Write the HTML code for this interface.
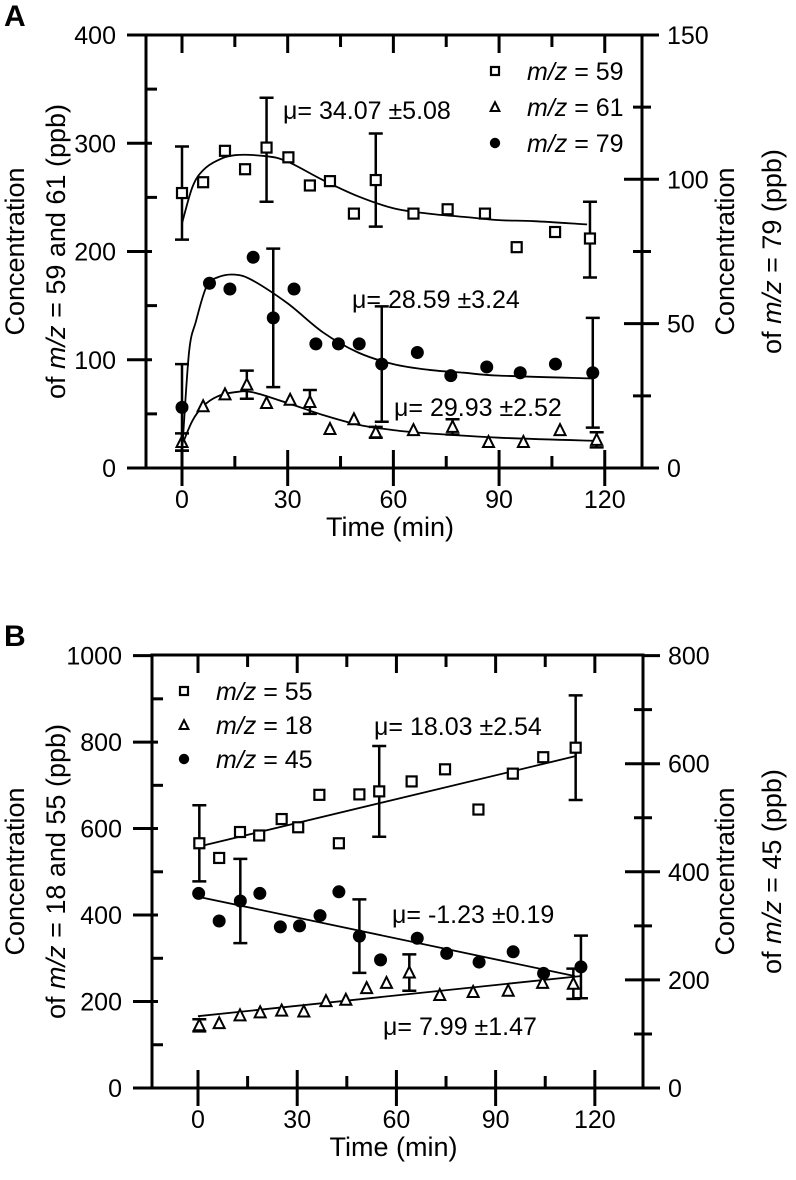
<!DOCTYPE html>
<html><head><meta charset="utf-8"><style>
html,body{margin:0;padding:0;background:#fff;}
svg{display:block;font-family:"Liberation Sans",sans-serif;}
</style></head><body>
<svg id="fig" width="796" height="1180" viewBox="0 0 796 1180" xmlns="http://www.w3.org/2000/svg"></svg>
<script>
// ---------- Panel A data ----------
const a59T=[0,6,12.2,17.9,24,30.2,36.3,42,48.8,55,65.7,75.4,86,95,105.9,115.8];
const a59V=[254,264,293,276,296,287,261,265,235,266,235,239,235,204,218,212];
const a59ErrT=[0,24,55,115.8];
const a59ErrV=[254,294,266,211];
const a59ErrE=[43,48,43,35];
const a59FitT=[0,3,6,10,15,24,30,40,50,60,70,80,90,100,115];
const a59FitV=[226,260,275,284,289,288,283,266,251,240,235,232,229,228,225];

const a61T=[0,6,12.2,18.4,24,30.7,36.3,42,48.8,55,65.7,76.8,87,96.9,107.3,117.7];
const a61V=[24,57,68,77,60,63,61,36,45,33,35,38,24,24,35,26];
const a61ErrT=[0,18.4,36.3,55,76.8,117.7];
const a61ErrV=[24,77,61,33,38,26];
const a61ErrE=[8,13,11,5,7,7];
const a61FitT=[0,3,6,10,15,20,30,40,50,60,70,90,118];
const a61FitV=[21,44,57,66,70,70,60,49,40,35,32,28,25];

const a79T=[0,7.8,13.6,20.2,25.9,31.8,38,44.4,50.3,56.7,66.8,76.3,86.5,96,106,116.6];
const a79V=[21,64,62,73,52,62,43,43,43,36,40,32,35,33,36,33];
const a79ErrT=[0,25.9,56.7,116.6];
const a79ErrV=[21,52,36,33];
const a79ErrE=[15,24,20,19];
const a79FitT=[0,2,4,7,10,15,20,30,40,50,60,70,80,90,117];
const a79FitV=[5,40,51,63,66,67,65,57,47,40,36,34,33,32,31];

// ---------- Panel B data ----------
const b55T=[0.4,6.4,12.7,18.5,25.3,30.3,36.7,42.6,48.8,54.8,64.6,74.7,84.8,95.2,104.4,114.2];
const b55V=[566,532,592,584,622,603,678,566,679,686,709,737,644,727,765,787];
const b55ErrT=[0.4,54.8,114.2];
const b55ErrV=[566,686,787];
const b55ErrE=[88,105,121];
const b55FitT=[0,114];
const b55FitV=[558,767];

const b18T=[0.4,6.4,12.7,18.8,25.3,32,38.7,44.7,51,57,63.9,73.1,83.2,93.8,104.2,113.5];
const b18V=[145,150,168,175,179,177,201,204,231,243,267,215,222,225,243,241];
const b18ErrT=[0.4,63.9,113.5];
const b18ErrV=[145,267,241];
const b18ErrE=[14,42,35];
const b18FitT=[0,116];
const b18FitV=[166,259];

const b45T=[0.2,6.4,12.8,18.7,24.9,30.7,36.9,42.6,48.8,55.2,66.3,75.2,85,95.3,104.5,115.8];
const b45V=[360,309,346,360,298,300,319,363,281,237,277,249,233,252,212,224];
const b45ErrT=[12.8,48.8,115.8];
const b45ErrV=[346,281,224];
const b45ErrE=[78,68,58];
const b45FitT=[0,114];
const b45FitV=[354,207];

// tick labels
const aXTicks=[0,30,60,90,120];
const aLTicks=[0,100,200,300,400];
const aRTicks=[0,50,100,150];
const bXTicks=[0,30,60,90,120];
const bLTicks=[0,200,400,600,800,1000];
const bRTicks=[0,200,400,600,800];

const NS="http://www.w3.org/2000/svg";
const svg=document.getElementById('fig');
function mk(tag,attrs,parent){const e=document.createElementNS(NS,tag);for(const k in attrs)e.setAttribute(k,attrs[k]);(parent||svg).appendChild(e);return e;}
function txt(x,y,s,anchor,size,parent,extra){const e=mk('text',Object.assign({x:x,y:y,'text-anchor':anchor||'middle','font-size':size||25,fill:'#000'},extra||{}),parent);e.textContent=s;return e;}

function panel(P){
  const g=mk('g',{});
  
  
  const X=t=>P.x0px+t*P.xk;
  const YL=v=>P.ybot-v*P.lk;
  const YR=v=>P.ybot-v*P.rk;
  const frame=mk('rect',{x:P.left,y:P.ytop,width:P.right-P.left,height:P.ybot-P.ytop,fill:'none',stroke:'#000','stroke-width':3},g);
  
  
  for(let t=0;t<=120;t+=15){
    const x=X(t), major=t%30===0;
    mk('line',{x1:x,x2:x,y1:P.ybot-(major?18:12),y2:P.ybot+(major?18:0),stroke:'#000','stroke-width':3},g);
    mk('line',{x1:x,x2:x,y1:P.ytop,y2:P.ytop+(major?18:12),stroke:'#000','stroke-width':3},g);
  }
  P.xt.forEach(t=>{const e=txt(X(t),P.ybot+40,String(t),'middle',25,g);});
  for(let v=0;v<=P.lmax;v+=P.lminor){
    const y=YL(v), major=v%P.lmajor===0;
    if(major) mk('line',{x1:P.left-19,x2:P.left+(v===0||v===P.lmax?0:6),y1:y,y2:y,stroke:'#000','stroke-width':3},g);
    else mk('line',{x1:P.left,x2:P.left+11,y1:y,y2:y,stroke:'#000','stroke-width':3},g);
  }
  P.lt.forEach(v=>{const e=txt(P.left-30,YL(v)+9,String(v),'end',25,g);});
  for(let v=0;v<=P.rmax;v+=P.rminor){
    const y=YR(v), major=v%P.rmajor===0;
    if(v===0||v===P.rmax){mk('line',{x1:P.right,x2:P.right+17,y1:y,y2:y,stroke:'#000','stroke-width':3},g);continue;}
    mk('line',{x1:P.right-(major?18:9),x2:P.right+(major?17:9),y1:y,y2:y,stroke:'#000','stroke-width':3},g);
  }
  P.rt.forEach(v=>{const e=txt(P.right+25,YR(v)+9,String(v),'start',25,g);});
  const xt=txt((P.left+P.right)/2-4,P.ybot+68,'Time (min)','middle',27,g);
  
  const cy=(P.ytop+P.ybot)/2;
  const l1=txt(0,0,'Concentration','middle',27,g,{transform:`translate(24,${cy}) rotate(-90)`});
  
  const l2=mk('text',{transform:`translate(65,${cy}) rotate(-90)`,'text-anchor':'middle','font-size':27},g);
  l2.innerHTML='of <tspan font-style="italic">m/z</tspan> = '+P.ltitle+' (ppb)';
  
  const r1=txt(0,0,'Concentration','middle',27,g,{transform:`translate(734,${cy}) rotate(-90)`});
  
  const r2=mk('text',{transform:`translate(781,${cy}) rotate(-90)`,'text-anchor':'middle','font-size':27},g);
  r2.innerHTML='of <tspan font-style="italic">m/z</tspan> = '+P.rtitle+' (ppb)';
  
  const lab=txt(4,P.ytop-9,P.label,'start',30,g,{'font-weight':'bold'});
  

  P.series.forEach(s=>{
    const Y=s.axis==='L'?YL:YR;
    const sg=mk('g',{},g);
    
    
    const pts=s.fitT.map((t,i)=>X(t).toFixed(1)+','+Y(s.fitV[i]).toFixed(1));
    let d='M'+pts[0];
    if(s.fitT.length>2){
      const P2=s.fitT.map((t,i)=>[X(t),Y(s.fitV[i])]);
      for(let i=0;i<P2.length-1;i++){
        const p0=P2[Math.max(0,i-1)],p1=P2[i],p2=P2[i+1],p3=P2[Math.min(P2.length-1,i+2)];
        const c1=[p1[0]+(p2[0]-p0[0])/6,p1[1]+(p2[1]-p0[1])/6],c2=[p2[0]-(p3[0]-p1[0])/6,p2[1]-(p3[1]-p1[1])/6];
        d+=` C${c1[0].toFixed(1)},${c1[1].toFixed(1)} ${c2[0].toFixed(1)},${c2[1].toFixed(1)} ${p2[0].toFixed(1)},${p2[1].toFixed(1)}`;
      }
    } else d+=' L'+pts[1];
    const fit=mk('path',{d:d,fill:'none',stroke:'#000','stroke-width':1.8},sg);
    
    s.errT.forEach((t,i)=>{
      const x=X(t),y1=Y(s.errV[i]+s.errE[i]),y2=Y(s.errV[i]-s.errE[i]);
      const eb=mk('path',{d:`M${x},${y1}V${y2}M${x-7},${y1}H${x+7}M${x-7},${y2}H${x+7}`,stroke:'#000','stroke-width':2.5,fill:'none'},sg);
      
    });
    s.t.forEach((t,i)=>{
      const m=marker(s.shape,X(t),Y(s.v[i]),sg);
      
    });
  });
  P.notes.forEach(n=>{const e=txt(n[0],n[1],n[2],'start',25,g);});
  const lg=mk('g',{},g);
  
  P.series.forEach((s,i)=>{
    const y=P.legY+i*P.legDy;
    const m=marker(s.shape,P.legX,y,lg,0.8);
    
    const t=mk('text',{x:P.legX+32,y:y+9,'font-size':25},lg);
    t.innerHTML='<tspan font-style="italic">m/z</tspan> = '+s.mz;
    
  });
}
function marker(shape,x,y,parent,sc){
  sc=sc||1;
  if(shape==='sq') return mk('rect',{x:x-5*sc,y:y-5*sc,width:10*sc,height:10*sc,fill:'#fff',stroke:'#000','stroke-width':2.2},parent);
  if(shape==='tri') return mk('polygon',{points:`${x},${y-6*sc} ${x-5.5*sc},${y+5*sc} ${x+5.5*sc},${y+5*sc}`,fill:'#fff',stroke:'#000','stroke-width':2},parent);
  return mk('circle',{cx:x,cy:y,r:6.5*sc,fill:'#000'},parent);
}

panel({name:'panel-a',label:'A',left:146,right:642,ytop:35,ybot:468,x0px:182,xk:3.523,lk:1.0825,rk:2.887,
  lmax:400,lmajor:100,lminor:50,rmax:150,rmajor:50,rminor:25,xt:aXTicks,lt:aLTicks,rt:aRTicks,
  ltitle:'59 and 61',rtitle:'79',legX:495,legY:71,legDy:36,
  notes:[[283,119,'\u03bc= 34.07 \u00b15.08'],[352,308,'\u03bc= 28.59 \u00b13.24'],[394,416,'\u03bc= 29.93 \u00b12.52']],
  series:[
   {mz:59,axis:'L',shape:'sq',t:a59T,v:a59V,errT:a59ErrT,errV:a59ErrV,errE:a59ErrE,fitT:a59FitT,fitV:a59FitV},
   {mz:61,axis:'L',shape:'tri',t:a61T,v:a61V,errT:a61ErrT,errV:a61ErrV,errE:a61ErrE,fitT:a61FitT,fitV:a61FitV},
   {mz:79,axis:'R',shape:'dot',t:a79T,v:a79V,errT:a79ErrT,errV:a79ErrV,errE:a79ErrE,fitT:a79FitT,fitV:a79FitV}]});

panel({name:'panel-b',label:'B',left:152,right:643,ytop:655,ybot:1088,x0px:198,xk:3.307,lk:0.4324,rk:0.5405,
  lmax:1000,lmajor:200,lminor:100,rmax:800,rmajor:200,rminor:100,xt:bXTicks,lt:bLTicks,rt:bRTicks,
  ltitle:'18 and 55',rtitle:'45',legX:184,legY:691,legDy:34,
  notes:[[374,735,'\u03bc= 18.03 \u00b12.54'],[392,923,'\u03bc= -1.23 \u00b10.19'],[383,1035,'\u03bc= 7.99 \u00b11.47']],
  series:[
   {mz:55,axis:'L',shape:'sq',t:b55T,v:b55V,errT:b55ErrT,errV:b55ErrV,errE:b55ErrE,fitT:b55FitT,fitV:b55FitV},
   {mz:18,axis:'L',shape:'tri',t:b18T,v:b18V,errT:b18ErrT,errV:b18ErrV,errE:b18ErrE,fitT:b18FitT,fitV:b18FitV},
   {mz:45,axis:'R',shape:'dot',t:b45T,v:b45V,errT:b45ErrT,errV:b45ErrV,errE:b45ErrE,fitT:b45FitT,fitV:b45FitV}]});
</script>
</body></html>
